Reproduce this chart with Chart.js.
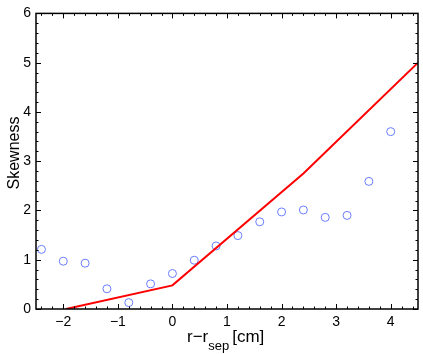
<!DOCTYPE html>
<html><head><meta charset="utf-8">
<script src="https://cdn.jsdelivr.net/npm/chart.js@4.4.1/dist/chart.umd.min.js"></script>
<style>html,body{margin:0;padding:0;background:#fff;overflow:hidden}#wrap{width:423px;height:354px;position:relative}</style>
</head><body><div id="wrap"><canvas id="c" width="423" height="354"></canvas></div>
<script>
const sepPositions = [-2.4,-2,-1.6,-1.2,-0.8,-0.4,0,0.4,0.8,1.2,1.6,2,2.4,2.8,3.2,3.6,4];
const skewness = [1.21,0.97,0.93,0.41,0.13,0.51,0.72,0.99,1.28,1.49,1.77,1.97,2.01,1.86,1.90,2.59,3.60];
const modelX = [-1.95,0,2.4,4.5];
const modelY = [0,0.48,2.75,5.0];
const xTicks = [-2,-1,0,1,2,3,4];
const yTicks = [0,1,2,3,4,5,6];
const xRange = [-2.5,4.5];
const yRange = [0,6];
const yTitle = 'Skewness';
const xTitleMain = 'r\u2212r';
const xTitleSub = 'sep';
const xTitleUnit = '[cm]';

const FONT = '"Liberation Sans", Arial, Helvetica, sans-serif';

const framePlugin = {
  id: 'frame',
  afterDatasetsDraw(chart) {
    const ctx = chart.ctx, a = chart.chartArea;
    const xs = chart.scales.x, ys = chart.scales.y;
    ctx.save();
    ctx.strokeStyle = '#000';
    ctx.lineWidth = 1;
    const step = 0.2;
    for (let i = Math.ceil(xRange[0]/step); i <= Math.floor(xRange[1]/step); i++) {
      const v = i*step;
      const major = Math.abs(v - Math.round(v)) < 1e-6;
      const L = major ? 5 : 2.5;
      const px = Math.round(xs.getPixelForValue(v)) + 0.5;
      ctx.beginPath();
      ctx.moveTo(px, a.bottom); ctx.lineTo(px, a.bottom - L);
      ctx.moveTo(px, a.top); ctx.lineTo(px, a.top + L);
      ctx.stroke();
    }
    for (let i = Math.ceil(yRange[0]/step); i <= Math.floor(yRange[1]/step); i++) {
      const v = i*step;
      const major = Math.abs(v - Math.round(v)) < 1e-6;
      const L = major ? 5 : 2.5;
      const py = Math.round(ys.getPixelForValue(v)) + 0.5;
      ctx.beginPath();
      ctx.moveTo(a.left, py); ctx.lineTo(a.left + L, py);
      ctx.moveTo(a.right, py); ctx.lineTo(a.right - L, py);
      ctx.stroke();
    }
    ctx.lineWidth = 1.5;
    ctx.strokeRect(a.left, a.top, a.right - a.left, a.bottom - a.top);
    ctx.restore();
  },
  afterDraw(chart) {
    const ctx = chart.ctx;
    ctx.save();
    ctx.fillStyle = '#000';
    ctx.translate(19, 153);
    ctx.rotate(-Math.PI/2);
    ctx.font = '16px ' + FONT;
    ctx.textAlign = 'center';
    ctx.textBaseline = 'alphabetic';
    ctx.fillText(yTitle, 0, 0);
    ctx.restore();
    ctx.save();
    ctx.fillStyle = '#000';
    ctx.textBaseline = 'alphabetic';
    ctx.textAlign = 'left';
    let x = 187;
    ctx.font = '17px ' + FONT;
    ctx.fillText(xTitleMain, x, 342);
    x += ctx.measureText(xTitleMain).width;
    ctx.font = '13px ' + FONT;
    ctx.fillText(xTitleSub, x, 350);
    x += ctx.measureText(xTitleSub).width + 3;
    ctx.font = '17px ' + FONT;
    ctx.fillText(xTitleUnit, x, 342);
    ctx.restore();
  }
};

const fmt = v => String(v).replace('-', '\u2212');

new Chart(document.getElementById('c'), {
  type: 'scatter',
  data: {
    datasets: [
      {
        type: 'line',
        data: modelX.map((x,i)=>({x, y: modelY[i]})),
        borderColor: 'rgb(255,0,0)',
        borderWidth: 2,
        pointRadius: 0,
        fill: false,
        tension: 0
      },
      {
        type: 'scatter',
        data: sepPositions.map((x,i)=>({x, y: skewness[i]})),
        borderColor: 'rgb(105,125,255)',
        backgroundColor: 'rgba(0,0,0,0)',
        borderWidth: 1,
        pointRadius: 4,
        pointStyle: 'circle'
      }
    ]
  },
  options: {
    responsive: false,
    animation: false,
    devicePixelRatio: 1,
    layout: { padding: { left: 0, top: 10, right: 4, bottom: 0 } },
    plugins: { legend: { display: false }, tooltip: { enabled: false } },
    scales: {
      x: {
        type: 'linear', min: xRange[0], max: xRange[1],
        afterBuildTicks: s => { s.ticks = xTicks.map(v => ({ value: v })); },
        afterFit: s => { s.height = 45; },
        grid: { display: false, drawTicks: false },
        border: { display: false },
        ticks: { color: '#000', font: { size: 14, family: FONT }, padding: 5, maxRotation: 0, autoSkip: false, callback: fmt }
      },
      y: {
        type: 'linear', min: yRange[0], max: yRange[1],
        afterBuildTicks: s => { s.ticks = yTicks.map(v => ({ value: v })); },
        afterFit: s => { s.width = 36; },
        grid: { display: false, drawTicks: false },
        border: { display: false },
        ticks: { color: '#000', font: { size: 14, family: FONT }, padding: 5, autoSkip: false, callback: fmt }
      }
    }
  },
  plugins: [framePlugin]
});
</script>
</body></html>
